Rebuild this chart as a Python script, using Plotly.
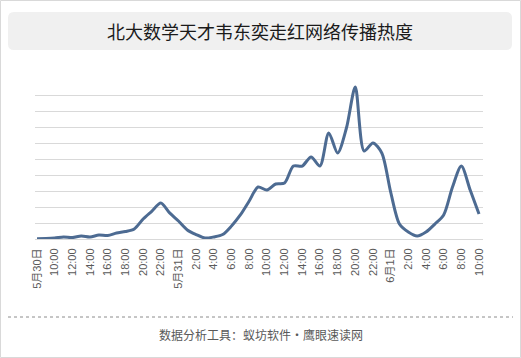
import plotly.graph_objects as go

labels = ["5月30日", "10:00", "12:00", "14:00", "16:00", "18:00", "20:00", "22:00",
          "5月31日", "2:00", "4:00", "6:00", "8:00", "10:00", "12:00", "14:00", "16:00",
          "18:00", "20:00", "22:00", "6月1日", "2:00", "4:00", "6:00", "8:00", "10:00"]

# hourly heat values, from 5/30 8:00 to 6/1 10:00
values = [0.2, 0.3, 0.6, 1.3, 0.9, 1.9, 1.3, 2.5, 2.2, 3.8, 4.7,
          6.3, 12.6, 17.6, 22.6, 16.4, 11.3, 5.7, 2.8, 0.6, 1.3,
          2.8, 8.2, 15.1, 23.9, 32.7, 30.8, 34.6, 35.2, 45.9, 45.9,
          51.6, 45.9, 66.7, 54.1, 69.8, 95.6, 55.3, 60.4, 54.1, 29.6,
          9.4, 4.4, 1.9, 4.4, 9.4, 15.1, 32.7, 45.9, 30.8, 15.7]

title = "北大数学天才韦东奕走红网络传播热度"
footer = "数据分析工具：蚁坊软件・鹰眼速读网"

W, H = 521, 358
L, R, T, B = 35, 483, 80, 239

def px(x):
    return (x - L) / (R - L)

def py(y):
    return (B - y) / (B - T)

fig = go.Figure()
fig.add_trace(go.Scatter(
    x=list(range(len(values))), y=values, mode="lines",
    line=dict(color="#4d6b92", width=3, shape="spline", smoothing=0.8),
    hoverinfo="skip", showlegend=False))

# rounded title box
x0, x1, y0, y1, r = 8, 512, 12, 50, 6
path = (f"M {px(x0+r)},{py(y0)} L {px(x1-r)},{py(y0)} Q {px(x1)},{py(y0)} {px(x1)},{py(y0+r)} "
        f"L {px(x1)},{py(y1-r)} Q {px(x1)},{py(y1)} {px(x1-r)},{py(y1)} "
        f"L {px(x0+r)},{py(y1)} Q {px(x0)},{py(y1)} {px(x0)},{py(y1-r)} "
        f"L {px(x0)},{py(y0+r)} Q {px(x0)},{py(y0)} {px(x0+r)},{py(y0)} Z")

shapes = [
    dict(type="rect", xref="paper", yref="paper", x0=px(0.5), x1=px(520.5), y0=py(0.5), y1=py(357.5),
         line=dict(color="#d9d9d9", width=1), fillcolor="rgba(0,0,0,0)", layer="below"),
    dict(type="path", xref="paper", yref="paper", path=path, fillcolor="#f0f0f0",
         line=dict(width=0), layer="below"),
    dict(type="line", xref="paper", yref="paper", x0=px(8), x1=px(513), y0=py(317), y1=py(317),
         line=dict(color="#8c8c8c", width=1, dash="dot")),
]

annotations = [
    dict(text=title, xref="paper", yref="paper", x=px(260), y=py(31), showarrow=False,
         xanchor="center", yanchor="middle",
         font=dict(family="Noto Sans CJK SC", size=18, color="#1a1a1a")),
    dict(text=footer, xref="paper", yref="paper", x=px(261), y=py(334), showarrow=False,
         xanchor="center", yanchor="middle",
         font=dict(family="Noto Sans CJK SC", size=12, color="#595959")),
]

fig.update_layout(
    width=W, height=H, margin=dict(l=L, r=W - R, t=T, b=H - B, pad=0),
    paper_bgcolor="white", plot_bgcolor="white",
    shapes=shapes, annotations=annotations, showlegend=False,
    xaxis=dict(range=[-0.23, 50.45], tickmode="array",
               tickvals=list(range(0, len(values), 2)), ticktext=labels,
               tickangle=-90, showgrid=False, zeroline=False,
               showline=True, linecolor="#d9d9d9", linewidth=1,
               ticks="outside", ticklen=4, tickcolor="rgba(0,0,0,0)",
               tickfont=dict(family="Liberation Sans, Noto Sans CJK SC", size=11, color="#595959")),
    yaxis=dict(range=[0, 100], dtick=10, showticklabels=False, showgrid=True,
               gridcolor="#d9d9d9", gridwidth=1, zeroline=False, fixedrange=True),
)

fig.write_html("out.html", config={"displayModeBar": False},
               post_script="document.body.style.margin='0';document.body.style.overflow='hidden';")
